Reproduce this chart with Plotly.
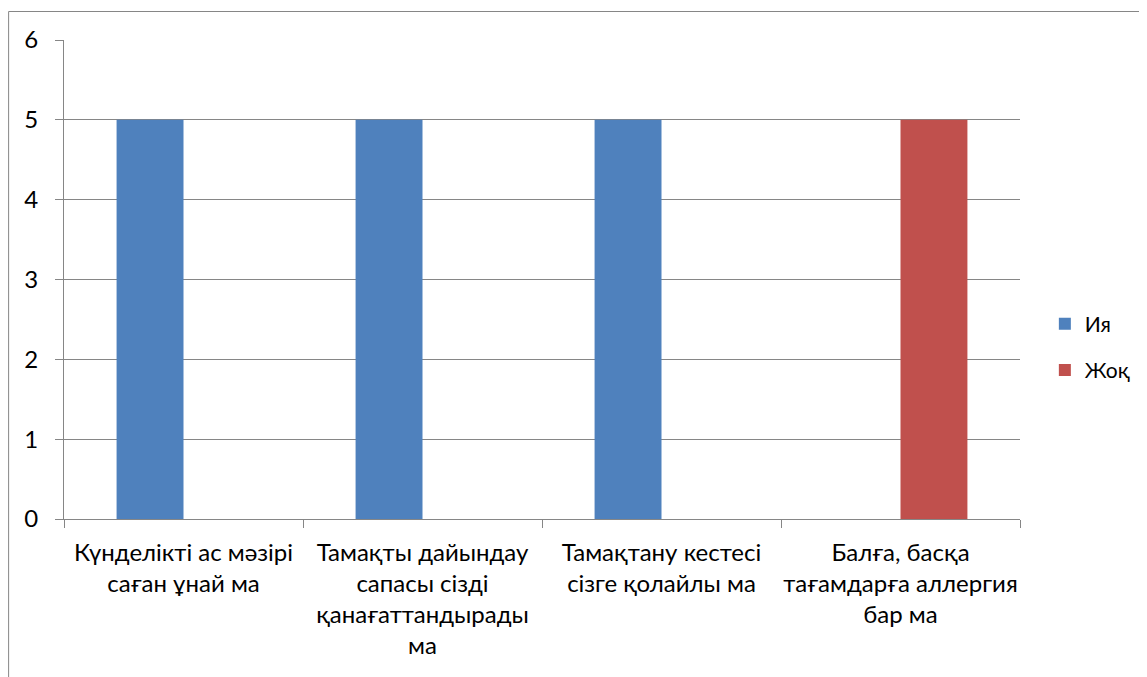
import plotly.graph_objects as go

categories = [
    "Күнделікті ас мәзірі<br>саған ұнай ма",
    "Тамақты дайындау<br>сапасы сізді<br>қанағаттандырады<br>ма",
    "Тамақтану кестесі<br>сізге қолайлы ма",
    "Балға, басқа<br>тағамдарға аллергия<br>бар ма",
]
series_names = ["Ия", "Жоқ"]
yes_values = [5, 5, 5, 0]
no_values = [0, 0, 0, 5]
colors = ["#4F81BD", "#C0504D"]

# page body has an 8px margin; figure is laid out in its own coordinates
W, H = 1139, 669
L, R, T, B = 56, 125, 32, 158

fig = go.Figure()
for name, vals, col in zip(series_names, [yes_values, no_values], colors):
    fig.add_trace(go.Bar(x=categories, y=vals, name=name, marker_color=col,
                         marker_line_width=0, legendgroup=name))

pw = W - L - R
ph = H - T - B
fig.add_shape(type="rect", xref="paper", yref="paper",
              x0=(0.5 - L) / pw, x1=1.3, y0=-0.6, y1=(H - B - 3.5) / ph,
              line=dict(color="#868686", width=1), fillcolor="rgba(0,0,0,0)", layer="below")

FONT = "Lato, Carlito, Calibri, Noto Sans, sans-serif"
fig.update_layout(
    width=W, height=H,
    margin=dict(l=L, r=R, t=T, b=B, pad=0),
    paper_bgcolor="white", plot_bgcolor="white",
    barmode="group", bargap=0.44, bargroupgap=0,
    font=dict(family=FONT, size=24, color="black"),
    legend=dict(x=0.026 + 1, y=0.359, xanchor="left", yanchor="middle",
                traceorder="grouped", tracegroupgap=16,
                font=dict(size=21), itemwidth=30),
    showlegend=True,
)
fig.update_xaxes(
    showline=True, linecolor="#868686", linewidth=1,
    ticks="outside", tickson="boundaries", ticklen=8, tickcolor="#868686",
    showgrid=False, tickangle=0, ticklabelstandoff=12,
)
fig.update_yaxes(
    range=[0, 6], dtick=1, showline=True, linecolor="#868686", linewidth=1,
    ticks="outside", ticklen=8, tickcolor="#868686",
    showgrid=True, gridcolor="#868686", gridwidth=1, zeroline=False,
    ticklabelstandoff=12,
)

fig.write_html("out.html")
